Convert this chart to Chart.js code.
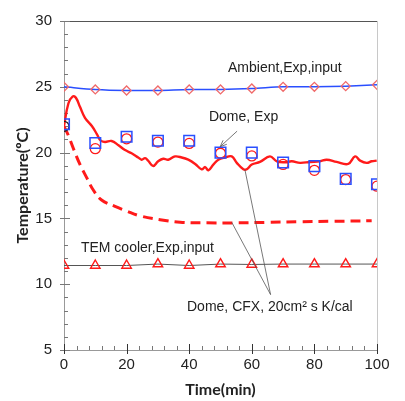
<!DOCTYPE html>
<html lang="en">
<head>
    <meta charset="UTF-8">
    <title>Dome temperature</title>
    <script src="https://cdn.jsdelivr.net/npm/chart.js"></script>
    <style>
        body { margin: 0; background: #fff; }
        canvas { display: block; }
    </style>
</head>
<body>
    <canvas id="tempChart" width="405" height="401"></canvas>

    <script>
        // measured points, every 10 min
        const timeExp = [0, 10, 20, 30, 40, 50, 60, 70, 80, 90, 100];
        const ambient = [25.0, 24.8, 24.72, 24.72, 24.8, 24.8, 24.87, 25.0, 25.0, 25.05, 25.15];
        const domeSquare = [22.15, 20.73, 21.2, 20.9, 20.9, 20.0, 20.0, 19.25, 18.97, 18.0, 17.6];
        const domeCircle = [22.0, 20.3, 21.05, 20.8, 20.7, 19.95, 19.75, 19.1, 18.65, 17.95, 17.45];
        const temCooler = [11.42, 11.42, 11.42, 11.53, 11.42, 11.53, 11.5, 11.53, 11.53, 11.53, 11.53];

        // CFX dome curve (solid)
        const cfxTime = [0, 1.4, 2.8, 3.8, 5.1, 6.7, 8.9, 10.5, 11.7, 13.1, 15.2, 17.4, 19.5, 21.6, 23.7, 24.8,
            25.9, 26.9, 28.5, 30.1, 31.7, 33.3, 35.5, 37.6, 39.7, 41.9, 44.0, 45.1, 46.1, 47.7, 49.3,
            51.4, 53.6, 55.2, 57.3, 58.4, 60.0, 62.6, 65.8, 68.0, 70.6, 72.8, 75.4, 78.6, 81.8, 83.9,
            87.1, 90.8, 93.0, 94.6, 96.7, 98.3, 99.9];
        const cfxSolid = [22.02, 23.73, 24.27, 24.17, 23.48, 22.64, 22.02, 21.41, 20.92, 20.81, 20.88, 20.56, 20.19, 19.95, 19.63, 19.46,
            19.58, 19.38, 18.98, 19.34, 19.53, 19.46, 19.71, 19.63, 19.46, 19.14, 18.73, 18.9, 18.65, 19.09, 19.46,
            19.63, 19.71, 19.22, 18.73, 18.73, 19.09, 19.29, 19.71, 19.34, 19.27, 19.34, 19.22, 19.29, 19.34, 19.46,
            19.29, 19.14, 19.71, 19.39, 19.22, 19.34, 19.39];

        // CFX dome curve (dashed)
        const dashTime = [0, 1.4, 3.0, 5.1, 7.2, 9.4, 12.0, 16.3, 20.0, 24.3, 30.7, 37.1, 45.6, 54.1, 64.8, 75.4, 86.0, 98.3];
        const cfxDash = [22.0, 21.3, 20.31, 19.1, 18.12, 17.14, 16.4, 15.92, 15.56, 15.19, 14.9, 14.7, 14.66, 14.66, 14.7, 14.75, 14.78, 14.82];

        const xTicks = [0, 20, 40, 60, 80, 100];
        const yTicks = [5, 10, 15, 20, 25, 30];

        // annotation texts and leader lines, in data units
        const notes = [
            { text: 'Ambient,Exp,input', x: 52.4, y: 26.4 },
            { text: 'Dome, Exp', x: 46.3, y: 22.66 },
            { text: 'TEM cooler,Exp,input', x: 5.4, y: 12.77 },
            { text: 'Dome, CFX, 20cm\u00b2 s K/cal', x: 39.3, y: 8.24 }
        ];
        const leaders = [
            { from: [55.3, 21.63], to: [49.9, 20.45], arrow: true },
            { from: [66.0, 9.21], to: [57.8, 18.7], arrow: false },
            { from: [66.0, 9.21], to: [53.6, 14.7], arrow: false }
        ];

        const pts = (xs, ys) => xs.map((x, i) => ({ x: x, y: ys[i] }));

        const RED = '#ff1a1a';
        const BLUE = '#2a4fff';

        const decor = {
            id: 'decor',
            beforeDatasetsDraw(chart) {
                const ctx = chart.ctx;
                const xs = chart.scales.x, ys = chart.scales.y;
                const a = chart.chartArea;
                ctx.save();
                // top and right frame
                ctx.lineWidth = 1;
                ctx.strokeStyle = '#555';
                ctx.beginPath();
                ctx.moveTo(a.left - 4, a.top + 0.5);
                ctx.lineTo(a.right, a.top + 0.5);
                ctx.stroke();
                ctx.strokeStyle = '#c8c8c8';
                ctx.beginPath();
                ctx.moveTo(a.right + 0.5, a.top);
                ctx.lineTo(a.right + 0.5, a.bottom);
                ctx.stroke();
                // tick marks
                ctx.strokeStyle = '#777';
                for (let v = 5; v <= 30; v++) {
                    const py = Math.round(ys.getPixelForValue(v)) + 0.5;
                    const major = v % 5 === 0;
                    ctx.beginPath();
                    ctx.moveTo(a.left - (major ? 4 : 0), py);
                    ctx.lineTo(a.left + (major ? 6 : 4), py);
                    ctx.stroke();
                }
                for (let v = 0; v <= 100; v += 4) {
                    const px = Math.round(xs.getPixelForValue(v)) + 0.5;
                    ctx.beginPath();
                    ctx.moveTo(px, a.bottom);
                    ctx.lineTo(px, a.bottom - 4);
                    ctx.stroke();
                }
                ctx.strokeStyle = '#333';
                xTicks.forEach(v => {
                    const px = Math.round(xs.getPixelForValue(v)) + 0.5;
                    ctx.beginPath();
                    ctx.moveTo(px, a.bottom + 4);
                    ctx.lineTo(px, a.bottom - 6);
                    ctx.stroke();
                });
                ctx.restore();
            },
            afterDatasetsDraw(chart) {
                const ctx = chart.ctx;
                const xs = chart.scales.x, ys = chart.scales.y;
                ctx.save();
                ctx.strokeStyle = '#555';
                ctx.lineWidth = 0.8;
                leaders.forEach(l => {
                    const x0 = xs.getPixelForValue(l.from[0]), y0 = ys.getPixelForValue(l.from[1]);
                    const x1 = xs.getPixelForValue(l.to[0]), y1 = ys.getPixelForValue(l.to[1]);
                    ctx.beginPath();
                    ctx.moveTo(x0, y0);
                    ctx.lineTo(x1, y1);
                    ctx.stroke();
                    if (l.arrow) {
                        const ang = Math.atan2(y1 - y0, x1 - x0);
                        ctx.beginPath();
                        ctx.moveTo(x1 - 7 * Math.cos(ang - 0.4), y1 - 7 * Math.sin(ang - 0.4));
                        ctx.lineTo(x1, y1);
                        ctx.lineTo(x1 - 7 * Math.cos(ang + 0.4), y1 - 7 * Math.sin(ang + 0.4));
                        ctx.stroke();
                    }
                });
                ctx.fillStyle = '#222';
                ctx.font = '14px "Liberation Sans", Arial, sans-serif';
                ctx.textAlign = 'left';
                ctx.textBaseline = 'middle';
                notes.forEach(n => {
                    ctx.fillText(n.text, xs.getPixelForValue(n.x), ys.getPixelForValue(n.y));
                });
                ctx.restore();
            }
        };

        const ctx = document.getElementById('tempChart').getContext('2d');
        new Chart(ctx, {
            type: 'scatter',
            data: {
                datasets: [
                    {
                        label: 'Ambient,Exp,input',
                        data: pts(timeExp, ambient),
                        showLine: true,
                        borderColor: BLUE,
                        borderWidth: 1.5,
                        tension: 0.3,
                        pointStyle: 'rectRot',
                        pointRadius: 4.5,
                        pointBorderColor: '#f06a6a',
                        pointBackgroundColor: 'rgba(0,0,0,0)',
                        pointBorderWidth: 1.3
                    },
                    {
                        label: 'Dome, Exp (square)',
                        data: pts(timeExp, domeSquare),
                        showLine: false,
                        pointStyle: 'rect',
                        pointRadius: 7.5,
                        pointBorderColor: BLUE,
                        pointBackgroundColor: 'rgba(0,0,0,0)',
                        pointBorderWidth: 1.5
                    },
                    {
                        label: 'Dome, Exp (circle)',
                        data: pts(timeExp, domeCircle),
                        showLine: false,
                        pointStyle: 'circle',
                        pointRadius: 5,
                        pointBorderColor: timeExp.map((t, i) => i === 0 ? '#222' : RED),
                        pointBackgroundColor: 'rgba(0,0,0,0)',
                        pointBorderWidth: 1.3
                    },
                    {
                        label: 'Dome, CFX',
                        data: pts(cfxTime, cfxSolid),
                        showLine: true,
                        borderColor: RED,
                        borderWidth: 2.4,
                        tension: 0.4,
                        pointRadius: 0
                    },
                    {
                        label: 'Dome, CFX (dashed)',
                        data: pts(dashTime, cfxDash),
                        showLine: true,
                        borderColor: RED,
                        borderWidth: 3,
                        borderDash: [10, 6],
                        tension: 0.4,
                        pointRadius: 0
                    },
                    {
                        label: 'TEM cooler,Exp,input',
                        data: pts(timeExp, temCooler),
                        showLine: true,
                        borderColor: '#555',
                        borderWidth: 1,
                        pointStyle: 'triangle',
                        pointRadius: 5.5,
                        pointBorderColor: RED,
                        pointBackgroundColor: 'rgba(0,0,0,0)',
                        pointBorderWidth: 1.4
                    }
                ]
            },
            options: {
                responsive: false,
                animation: false,
                layout: { padding: { top: 9, right: 28, left: 0, bottom: 0 } },
                plugins: {
                    legend: { display: false },
                    tooltip: { enabled: false }
                },
                scales: {
                    x: {
                        type: 'linear',
                        min: 0,
                        max: 100,
                        afterFit: s => { s.height = 51; },
                        afterBuildTicks: s => { s.ticks = xTicks.map(v => ({ value: v })); },
                        grid: { display: false, drawTicks: false },
                        border: { display: true, color: '#999', width: 1 },
                        ticks: {
                            color: '#222',
                            padding: 6,
                            maxRotation: 0,
                            font: { family: '"Liberation Sans", Arial, sans-serif', size: 15 }
                        },
                        title: {
                            display: true,
                            text: 'Time(min)',
                            color: '#222',
                            padding: { top: 0, bottom: 2 },
                            font: { family: 'Lato, sans-serif', weight: 'bold', size: 16 }
                        }
                    },
                    y: {
                        type: 'linear',
                        min: 5,
                        max: 30,
                        afterFit: s => { s.width = 64; },
                        afterBuildTicks: s => { s.ticks = yTicks.map(v => ({ value: v })); },
                        grid: { display: false, drawTicks: false },
                        border: { display: true, color: '#999', width: 1 },
                        ticks: {
                            color: '#222',
                            padding: 12,
                            font: { family: '"Liberation Sans", Arial, sans-serif', size: 15 }
                        },
                        title: {
                            display: true,
                            text: 'Temperature(\u00baC)',
                            color: '#222',
                            padding: { top: 13, bottom: 0 },
                            font: { family: 'Lato, sans-serif', weight: 'bold', size: 16 }
                        }
                    }
                }
            },
            plugins: [decor]
        });
    </script>
</body>
</html>
